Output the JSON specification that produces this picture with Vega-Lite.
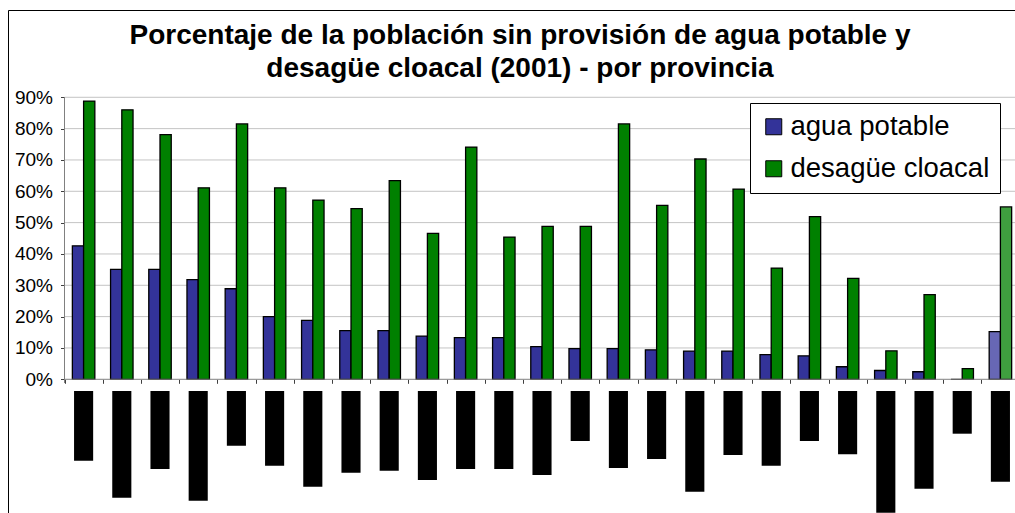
{
  "$schema": "https://vega.github.io/schema/vega-lite/v6.json",
  "width": 1024,
  "height": 508,
  "autosize": {"type": "none"},
  "padding": {"left": 8, "top": 10, "right": 0, "bottom": 0},
  "background": "#ffffff",
  "config": {
    "view": {"stroke": "#000000", "strokeWidth": 1},
    "font": "Liberation Sans"
  },
  "title": {
    "text": ["Porcentaje de la población sin provisión de agua potable y", "desagüe cloacal (2001) - por provincia"],
    "font": "Liberation Sans",
    "fontSize": 28,
    "fontWeight": "bold",
    "color": "#000000",
    "anchor": "middle",
    "frame": "group",
    "lineHeight": 33,
    "offset": -73
  },
  "datasets": {
    "barras": [
      {"provincia": "P01", "serie": "agua potable", "grupo": "provincia", "valor": 42.6},
      {"provincia": "P01", "serie": "desagüe cloacal", "grupo": "provincia", "valor": 88.8},
      {"provincia": "P02", "serie": "agua potable", "grupo": "provincia", "valor": 35.1},
      {"provincia": "P02", "serie": "desagüe cloacal", "grupo": "provincia", "valor": 86.0},
      {"provincia": "P03", "serie": "agua potable", "grupo": "provincia", "valor": 35.1},
      {"provincia": "P03", "serie": "desagüe cloacal", "grupo": "provincia", "valor": 78.1},
      {"provincia": "P04", "serie": "agua potable", "grupo": "provincia", "valor": 31.8},
      {"provincia": "P04", "serie": "desagüe cloacal", "grupo": "provincia", "valor": 61.1},
      {"provincia": "P05", "serie": "agua potable", "grupo": "provincia", "valor": 28.9},
      {"provincia": "P05", "serie": "desagüe cloacal", "grupo": "provincia", "valor": 81.5},
      {"provincia": "P06", "serie": "agua potable", "grupo": "provincia", "valor": 20.0},
      {"provincia": "P06", "serie": "desagüe cloacal", "grupo": "provincia", "valor": 61.1},
      {"provincia": "P07", "serie": "agua potable", "grupo": "provincia", "valor": 18.8},
      {"provincia": "P07", "serie": "desagüe cloacal", "grupo": "provincia", "valor": 57.2},
      {"provincia": "P08", "serie": "agua potable", "grupo": "provincia", "valor": 15.5},
      {"provincia": "P08", "serie": "desagüe cloacal", "grupo": "provincia", "valor": 54.5},
      {"provincia": "P09", "serie": "agua potable", "grupo": "provincia", "valor": 15.5},
      {"provincia": "P09", "serie": "desagüe cloacal", "grupo": "provincia", "valor": 63.4},
      {"provincia": "P10", "serie": "agua potable", "grupo": "provincia", "valor": 13.8},
      {"provincia": "P10", "serie": "desagüe cloacal", "grupo": "provincia", "valor": 46.6},
      {"provincia": "P11", "serie": "agua potable", "grupo": "provincia", "valor": 13.3},
      {"provincia": "P11", "serie": "desagüe cloacal", "grupo": "provincia", "valor": 74.1},
      {"provincia": "P12", "serie": "agua potable", "grupo": "provincia", "valor": 13.3},
      {"provincia": "P12", "serie": "desagüe cloacal", "grupo": "provincia", "valor": 45.4},
      {"provincia": "P13", "serie": "agua potable", "grupo": "provincia", "valor": 10.4},
      {"provincia": "P13", "serie": "desagüe cloacal", "grupo": "provincia", "valor": 48.8},
      {"provincia": "P14", "serie": "agua potable", "grupo": "provincia", "valor": 9.8},
      {"provincia": "P14", "serie": "desagüe cloacal", "grupo": "provincia", "valor": 48.8},
      {"provincia": "P15", "serie": "agua potable", "grupo": "provincia", "valor": 9.8},
      {"provincia": "P15", "serie": "desagüe cloacal", "grupo": "provincia", "valor": 81.5},
      {"provincia": "P16", "serie": "agua potable", "grupo": "provincia", "valor": 9.4},
      {"provincia": "P16", "serie": "desagüe cloacal", "grupo": "provincia", "valor": 55.5},
      {"provincia": "P17", "serie": "agua potable", "grupo": "provincia", "valor": 9.0},
      {"provincia": "P17", "serie": "desagüe cloacal", "grupo": "provincia", "valor": 70.3},
      {"provincia": "P18", "serie": "agua potable", "grupo": "provincia", "valor": 9.0},
      {"provincia": "P18", "serie": "desagüe cloacal", "grupo": "provincia", "valor": 60.7},
      {"provincia": "P19", "serie": "agua potable", "grupo": "provincia", "valor": 7.9},
      {"provincia": "P19", "serie": "desagüe cloacal", "grupo": "provincia", "valor": 35.5},
      {"provincia": "P20", "serie": "agua potable", "grupo": "provincia", "valor": 7.5},
      {"provincia": "P20", "serie": "desagüe cloacal", "grupo": "provincia", "valor": 51.9},
      {"provincia": "P21", "serie": "agua potable", "grupo": "provincia", "valor": 4.0},
      {"provincia": "P21", "serie": "desagüe cloacal", "grupo": "provincia", "valor": 32.2},
      {"provincia": "P22", "serie": "agua potable", "grupo": "provincia", "valor": 2.8},
      {"provincia": "P22", "serie": "desagüe cloacal", "grupo": "provincia", "valor": 9.1},
      {"provincia": "P23", "serie": "agua potable", "grupo": "provincia", "valor": 2.4},
      {"provincia": "P23", "serie": "desagüe cloacal", "grupo": "provincia", "valor": 27.0},
      {"provincia": "P24", "serie": "agua potable", "grupo": "provincia", "valor": 0},
      {"provincia": "P24", "serie": "desagüe cloacal", "grupo": "provincia", "valor": 3.4},
      {"provincia": "Total", "serie": "agua potable", "grupo": "total", "valor": 15.2},
      {"provincia": "Total", "serie": "desagüe cloacal", "grupo": "total", "valor": 55.0}
    ],
    "etiquetas": [
      {"provincia": "P01", "largo": 69.7},
      {"provincia": "P02", "largo": 106.7},
      {"provincia": "P03", "largo": 78},
      {"provincia": "P04", "largo": 109.7},
      {"provincia": "P05", "largo": 54.7},
      {"provincia": "P06", "largo": 74.7},
      {"provincia": "P07", "largo": 95.7},
      {"provincia": "P08", "largo": 81.7},
      {"provincia": "P09", "largo": 79.7},
      {"provincia": "P10", "largo": 89},
      {"provincia": "P11", "largo": 78},
      {"provincia": "P12", "largo": 78},
      {"provincia": "P13", "largo": 84},
      {"provincia": "P14", "largo": 50},
      {"provincia": "P15", "largo": 77},
      {"provincia": "P16", "largo": 68},
      {"provincia": "P17", "largo": 100.7},
      {"provincia": "P18", "largo": 64},
      {"provincia": "P19", "largo": 74.7},
      {"provincia": "P20", "largo": 50},
      {"provincia": "P21", "largo": 63.3},
      {"provincia": "P22", "largo": 121.7},
      {"provincia": "P23", "largo": 97.7},
      {"provincia": "P24", "largo": 42.7},
      {"provincia": "Total", "largo": 90.7}
    ],
    "grilla": [
      {"provincia": "P01", "v": 10},
      {"provincia": "P01", "v": 20},
      {"provincia": "P01", "v": 30},
      {"provincia": "P01", "v": 40},
      {"provincia": "P01", "v": 50},
      {"provincia": "P01", "v": 60},
      {"provincia": "P01", "v": 70},
      {"provincia": "P01", "v": 80},
      {"provincia": "P01", "v": 90}
    ],
    "base": [
      {"provincia": "P01", "v": 0}
    ],
    "eje": [
      {"provincia": "P01", "desde": -1.2, "hasta": 90}
    ]
  },
  "layer": [
    {
      "layer": [
        {
          "data": {"name": "grilla"},
          "mark": {"type": "rule", "color": "#c4c4c4", "strokeWidth": 1},
          "encoding": {
            "x": {"field": "provincia", "type": "nominal", "bandPosition": 0, "title": null},
            "x2": {"value": "width"},
            "y": {"field": "v", "type": "quantitative", "title": null}
          }
        },
        {
          "data": {"name": "barras"},
          "transform": [
            {"calculate": "datum.grupo == 'total' ? datum.serie + ' (total)' : datum.serie", "as": "clave"}
          ],
          "mark": {"type": "bar", "stroke": "#000000", "strokeWidth": 1.3},
          "encoding": {
            "x": {
              "field": "provincia",
              "type": "nominal",
              "title": null,
              "scale": {
                "type": "band",
                "domain": ["P01","P02","P03","P04","P05","P06","P07","P08","P09","P10","P11","P12","P13","P14","P15","P16","P17","P18","P19","P20","P21","P22","P23","P24","Total"],
                "paddingInner": 0,
                "paddingOuter": 0.903,
                "align": 0.819
              },
              "axis": {
                "labels": false,
                "domain": false,
                "grid": false,
                "ticks": true,
                "tickBand": "extent",
                "tickSize": 4,
                "tickColor": "#404040",
                "offset": -138.7,
                "title": null
              }
            },
            "xOffset": {
              "field": "serie",
              "type": "nominal",
              "sort": ["agua potable", "desagüe cloacal"],
              "scale": {"paddingInner": 0, "paddingOuter": 0.7}
            },
            "y": {
              "field": "valor",
              "type": "quantitative",
              "title": null,
              "scale": {"domain": [-44.27, 117.86], "nice": false, "zero": false},
              "axis": {
                "values": [0, 10, 20, 30, 40, 50, 60, 70, 80, 90],
                "labelExpr": "datum.value + '%'",
                "offset": -56.5,
                "domain": false,
                "grid": false,
                "ticks": true,
                "tickSize": 4,
                "tickColor": "#404040",
                "labelFont": "Liberation Sans",
                "labelFontSize": 19,
                "labelColor": "#000000",
                "labelPadding": 8,
                "title": null
              }
            },
            "color": {
              "field": "clave",
              "type": "nominal",
              "scale": {
                "domain": ["agua potable", "desagüe cloacal", "agua potable (total)", "desagüe cloacal (total)"],
                "range": ["#333399", "#008000", "#6767b5", "#3f9f3f"]
              },
              "legend": {
                "values": ["agua potable", "desagüe cloacal"],
                "orient": "none",
                "legendX": 742,
                "legendY": 93,
                "title": null,
                "strokeColor": "#000000",
                "fillColor": "#ffffff",
                "padding": 10,
                "symbolType": "square",
                "symbolSize": 256,
                "symbolStrokeColor": "#000000",
                "symbolStrokeWidth": 1,
                "symbolOpacity": 1,
                "labelFont": "Liberation Sans",
                "labelFontSize": 27.5,
                "labelColor": "#000000",
                "labelOffset": 3,
                "labelLimit": 500,
                "rowPadding": 13
              }
            }
          }
        },
        {
          "data": {"name": "base"},
          "mark": {"type": "rule", "color": "#808080", "strokeWidth": 1},
          "encoding": {
            "x": {"field": "provincia", "type": "nominal", "bandPosition": 0, "title": null},
            "x2": {"value": "width"},
            "y": {"field": "v", "type": "quantitative", "title": null}
          }
        },
        {
          "data": {"name": "eje"},
          "mark": {"type": "rule", "color": "#808080", "strokeWidth": 1},
          "encoding": {
            "x": {"field": "provincia", "type": "nominal", "bandPosition": 0, "title": null},
            "y": {"field": "desde", "type": "quantitative", "title": null},
            "y2": {"field": "hasta"}
          }
        }
      ]
    },
    {
      "data": {"name": "etiquetas"},
      "mark": {"type": "bar", "color": "#000000", "width": {"band": 0.5}},
      "encoding": {
        "x": {"field": "provincia", "type": "nominal", "title": null},
        "y": {
          "field": "largo",
          "type": "quantitative",
          "title": null,
          "scale": {"domain": [-381, 127], "reverse": true, "nice": false, "zero": false},
          "axis": null
        },
        "y2": {"datum": 0}
      }
    }
  ],
  "resolve": {"scale": {"y": "independent"}, "axis": {"y": "independent"}}
}
